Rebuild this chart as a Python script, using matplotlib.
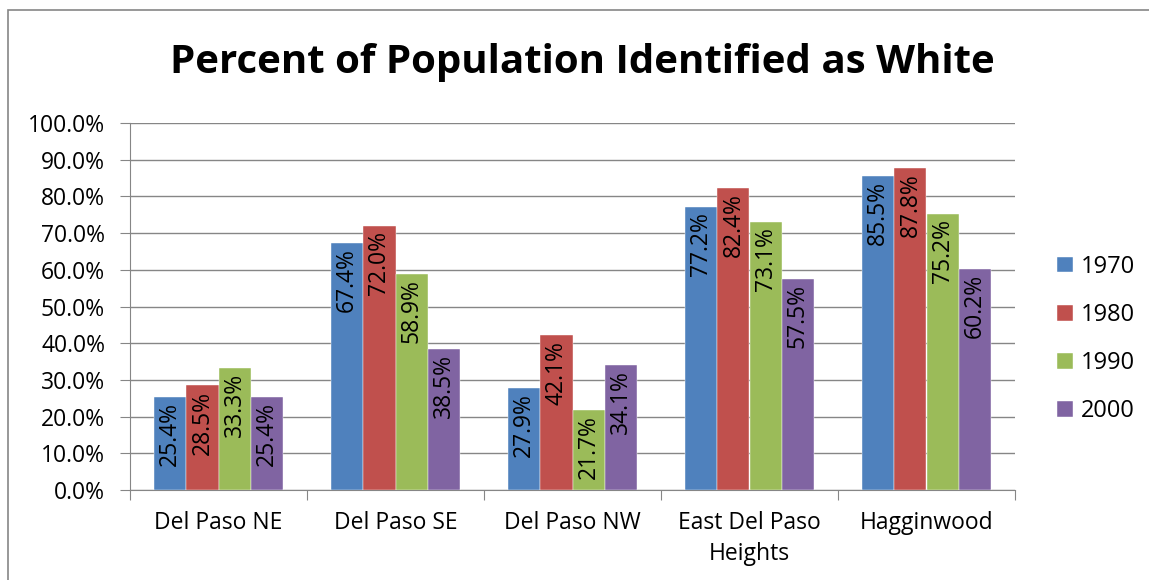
import matplotlib
matplotlib.use("Agg")
import matplotlib.pyplot as plt
import numpy as np
from matplotlib.patches import Rectangle

categories = ["Del Paso NE", "Del Paso SE", "Del Paso NW", "East Del Paso\nHeights", "Hagginwood"]
years = ["1970", "1980", "1990", "2000"]
v1970 = [25.4, 67.4, 27.9, 77.2, 85.5]
v1980 = [28.5, 72.0, 42.1, 82.4, 87.8]
v1990 = [33.3, 58.9, 21.7, 73.1, 75.2]
v2000 = [25.4, 38.5, 34.1, 57.5, 60.2]
colors = ["#4F81BD", "#C0504D", "#9BBB59", "#8064A2"]

plt.rcParams["font.family"] = ["Open Sans", "DejaVu Sans"]

fig = plt.figure(figsize=(11.49, 5.8), dpi=100)
# outer chart border
fig.patches.append(Rectangle((8 / 1149, -0.05), 1.2, 1 - 10 / 580 + 0.05,
                             transform=fig.transFigure, fill=False,
                             edgecolor="#868686", linewidth=1.2))

ax = fig.add_axes([130 / 1149, 1 - 490 / 580, 885 / 1149, 367 / 580])
x = np.arange(len(categories))
w = 0.182
series = [v1970, v1980, v1990, v2000]
for i, (vals, c, yr) in enumerate(zip(series, colors, years)):
    pos = x + (i - 1.5) * w
    ax.bar(pos, vals, width=w, color=c, edgecolor="white", linewidth=0.3, label=yr, zorder=3)
    for px, v in zip(pos, vals):
        ax.text(px, v - 1.4, f"{v:.1f}%", rotation=90, ha="center", va="top",
                fontsize=16.5, zorder=4)

ax.set_xlim(-0.5, len(categories) - 0.5)
ax.set_ylim(0, 100)
ax.set_yticks(np.arange(0, 101, 10))
ax.set_yticklabels([f"{t:.1f}%" for t in np.arange(0, 101, 10)], fontsize=16.5)
ax.yaxis.grid(True, color="#868686", linewidth=1, zorder=0)
ax.set_xticks(np.arange(-0.5, len(categories), 1.0))
ax.set_xticklabels([])
ax.set_xticks(x, minor=True)
ax.set_xticklabels(categories, minor=True, fontsize=16.5, linespacing=1.4)
ax.tick_params(axis="x", which="minor", length=0, pad=15)
ax.tick_params(axis="x", which="major", length=7, color="#868686", direction="out")
ax.tick_params(axis="y", length=7, color="#868686", pad=11)
for s in ["top", "right"]:
    ax.spines[s].set_visible(False)
for s in ["left", "bottom"]:
    ax.spines[s].set_color("#868686")

fig.text(582 / 1149, 1 - 62 / 580, "Percent of Population Identified as White",
         ha="center", va="center", fontsize=29, fontweight="bold")

fig.legend(loc="center left", bbox_to_anchor=(1036 / 1149, 1 - 339 / 580), frameon=False,
           fontsize=17, handlelength=0.65, handleheight=0.65, labelspacing=1.02,
           handletextpad=0.35)

fig.savefig("out.png", dpi=100)
